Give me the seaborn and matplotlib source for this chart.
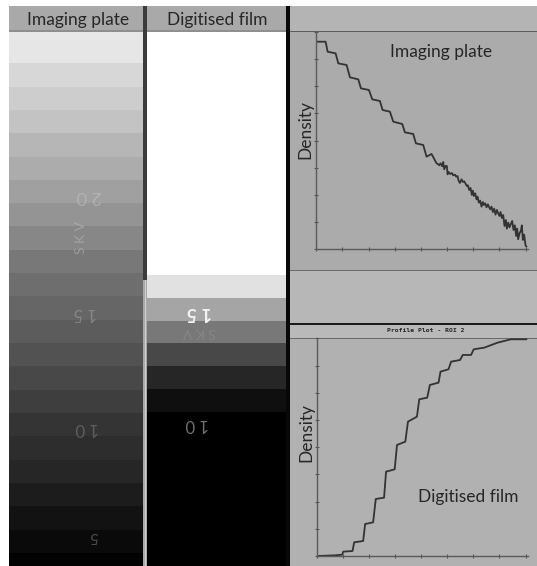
import numpy as np
import matplotlib
matplotlib.use("Agg")
import matplotlib.pyplot as plt
from matplotlib.patches import Rectangle
import seaborn as sns

sns.set_theme(style="white")
plt.rcParams['font.family'] = ['Lato', 'Liberation Sans', 'DejaVu Sans']

plate_grey = [232, 230, 215, 205, 195, 182, 172, 160, 148, 135, 120, 110,
              102, 92, 82, 72, 62, 52, 45, 38, 28, 18, 10, 2]
film_grey = [255] * 11 + [225, 165, 120, 72, 38, 15] + [0] * 7

plate_x = [0, 28, 34, 58, 66, 91, 101, 126, 134, 158, 168, 191, 199, 221, 231, 258, 266, 291, 299, 321, 331, 346, 361,
           365, 369, 373, 378, 381, 384, 388, 392, 394, 397, 402, 407, 411, 416, 420, 424, 427, 431, 436, 440,
           444, 448, 452, 455, 459, 463, 467, 470, 473, 477, 481, 484, 488, 492, 496, 500, 503, 507, 511, 515,
           518, 522, 526, 530, 534, 538, 542, 546, 550, 553, 557, 561, 565, 569, 572, 576, 580, 584, 588, 592,
           596, 600, 603, 606, 610, 614, 617, 620, 624, 628, 631]
plate_y = [623, 623, 593, 588, 558, 553, 516, 510, 483, 478, 450, 445, 418, 413, 383, 376, 351, 346, 318, 313, 278, 286, 258,
           256, 252, 258, 249, 262, 240, 250, 250, 225, 232, 226, 229, 222, 224, 218, 220, 206, 199, 210, 202,
           204, 197, 190, 192, 178, 184, 163, 176, 160, 168, 150, 158, 140, 146, 128, 142, 133, 138, 126, 135,
           128, 120, 128, 112, 122, 104, 118, 108, 100, 112, 94, 103, 70, 88, 62, 80, 66, 76, 85, 58,
           72, 40, 62, 30, 48, 55, 72, 28, 44, 12, 8]

film_x = [0, 54, 76, 79, 107, 112, 139, 145, 169, 177, 202, 208, 234, 241, 266, 274, 301, 308, 332, 340, 366, 372,
          396, 404, 431, 439, 464, 472, 504, 544, 584, 631]
film_y = [0, 2, 4, 13, 15, 41, 45, 96, 101, 171, 175, 253, 260, 333, 343, 403, 418, 470, 475, 513, 520, 553,
          560, 583, 588, 603, 603, 620, 625, 640, 650, 650]

W, H = 537, 566
fig = plt.figure(figsize=(W / 100, H / 100), dpi=100, facecolor="white")


def px_axes(x0, y0, x1, y1, **kw):
    return fig.add_axes([x0 / W, 1 - y1 / H, (x1 - x0) / W, (y1 - y0) / H], **kw)


bg = px_axes(0, 0, W, H)
bg.set_xlim(0, W)
bg.set_ylim(H, 0)
bg.axis("off")


def rect(x0, y0, x1, y1, c):
    bg.add_patch(Rectangle((x0, y0), x1 - x0, y1 - y0, fc=c, ec="none"))


rect(9, 6, 287, 32, "#a9a9a9")
rect(9, 30, 287, 32, "#8f8f8f")
rect(290, 6, W, 31, "#b4b4b4")
rect(290, 31, W, 270, "#ababab")
rect(290, 270, W, 323, "#b7b7b7")
rect(290, 325, W, 338, "#b9b9b9")
rect(290, 338, W, H, "#b1b1b1")
rect(143, 6, 147, 280, "#3c3c3c")
rect(143, 280, 147, H, "#a8a8a8")
rect(145, 280, 146, H, "#d0d0d0")
rect(286, 6, 290, H, "#080808")
rect(290, 31, W, 32, "#5c5c5c")
rect(290, 270, W, 271, "#6a6a6a")
rect(290, 323, W, 325, "#1c1c1c")
rect(290, 338, W, 339, "#6a6a6a")


def tablet(values, x0, x1, h, y_start):
    ax = px_axes(x0, 32, x1, 566)
    sns.heatmap(np.array(values, dtype=float).reshape(-1, 1), cmap="gray", vmin=0, vmax=255,
                cbar=False, xticklabels=False, yticklabels=False, ax=ax)
    ax.set_ylim((566 - y_start) / h, (32 - y_start) / h)
    return ax


tablet(plate_grey, 9, 143, 23.32, 16.6)
tablet(film_grey, 147, 286, 22.8, 24.2)


def profile(x, y, x0, y0, x1, y1, ymax):
    ax = px_axes(x0, y0, x1, y1)
    ax.patch.set_alpha(0)
    sns.lineplot(x=x, y=y, ax=ax, color="#333333", lw=1.3, estimator=None, sort=False)
    ax.set_xlim(0, 634)
    ax.set_ylim(0, ymax)
    ax.set_xticks(np.arange(9) * 78.5)
    ax.set_yticks(np.arange(9) * ymax / 8)
    ax.set_xticklabels([])
    ax.set_yticklabels([])
    ax.tick_params(length=2.5, width=0.8, color="#555555", direction="inout", bottom=True, left=True)
    for s in ("top", "right"):
        ax.spines[s].set_visible(False)
    for s in ("left", "bottom"):
        ax.spines[s].set_color("#5a5a5a")
        ax.spines[s].set_linewidth(1.0)
    return ax


profile(plate_x, plate_y, 316.3, 31.7, 527.5, 249.3, 653)
profile(film_x, film_y, 317, 338.3, 527.5, 556, 653)


def label(x, y, s, size=12.5, color="#262626", rotation=0, weight="normal", alpha=1.0, family=None):
    kw = {"family": family} if family else {}
    fig.text(x / W, 1 - y / H, s, fontsize=size, color=color, rotation=rotation, weight=weight,
             alpha=alpha, ha="center", va="center", **kw)


label(78, 20, "Imaging plate")
label(217, 20, "Digitised film")
label(441, 52, "Imaging plate")
label(468, 497, "Digitised film")
label(305, 129, "Density", rotation=90)
label(306, 433, "Density", rotation=90)
label(426, 331, "Profile Plot - ROI 2", size=4.6, weight="bold", family="DejaVu Sans Mono")

label(89, 196, "2 0", size=13, color="#c4c4c4", rotation=180, alpha=0.5)
label(81, 238, "S K V", size=10, color="#c4c4c4", rotation=90, alpha=0.45)
label(85, 313, "1 5", size=12, color="#b0b0b0", rotation=180, alpha=0.45)
label(87, 428, "1 0", size=12, color="#a0a0a0", rotation=180, alpha=0.4)
label(94, 536, "5", size=11, color="#909090", rotation=180, alpha=0.5)
label(199, 312, "1 5", size=13, color="#f4f4f4", rotation=180, weight="bold")
label(200, 332, "S K V", size=10, color="#b0b0b0", rotation=180, alpha=0.25)
label(197, 424, "1 0", size=12, color="#707070", rotation=180)

fig.savefig("out.png", dpi=100, facecolor="white")
